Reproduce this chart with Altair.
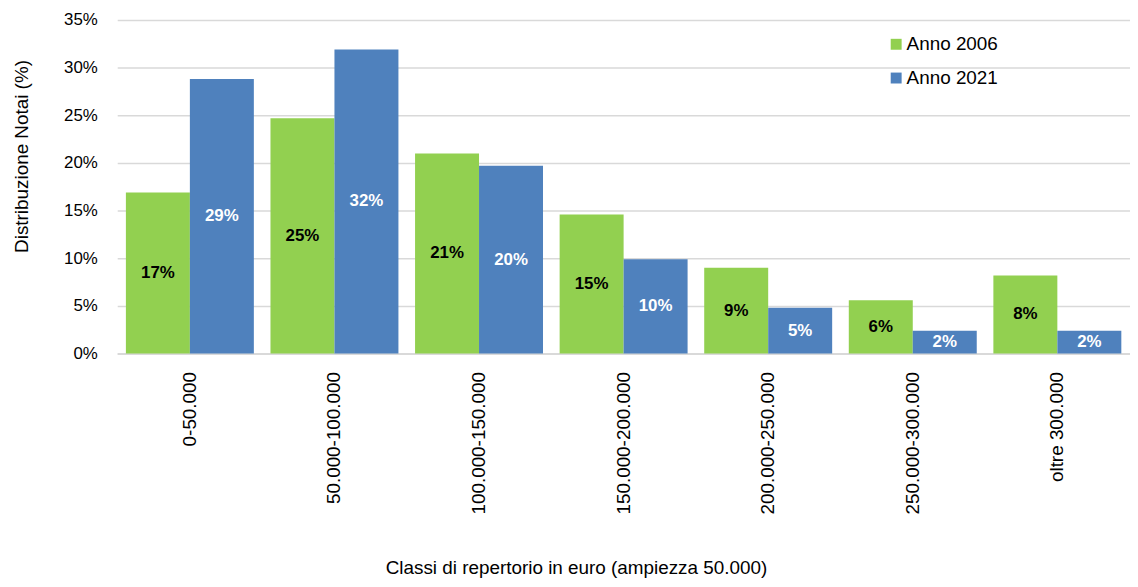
import altair as alt
import pandas as pd

classi = ["0-50.000", "50.000-100.000", "100.000-150.000", "150.000-200.000",
          "200.000-250.000", "250.000-300.000", "oltre 300.000"]
anno_2006 = [0.169, 0.247, 0.210, 0.146, 0.090, 0.056, 0.082]
anno_2021 = [0.288, 0.319, 0.197, 0.099, 0.048, 0.024, 0.024]
serie = ["Anno 2006", "Anno 2021"]
colori = ["#92D050", "#4F81BD"]
colori_testo = ["#000000", "#FFFFFF"]

rows = []
for i, c in enumerate(classi):
    rows.append({"Classe": c, "Anno": serie[0], "Valore": anno_2006[i], "tc": colori_testo[0]})
    rows.append({"Classe": c, "Anno": serie[1], "Valore": anno_2021[i], "tc": colori_testo[1]})
df = pd.DataFrame(rows)

FONT = "Liberation Sans"

x_enc = alt.X("Classe:N", sort=classi,
              scale=alt.Scale(paddingInner=0.115, paddingOuter=0.06),
              axis=alt.Axis(title="Classi di repertorio in euro (ampiezza 50.000)",
                            labelAngle=-90, labelAlign="right", labelBaseline="middle",
                            labelPadding=18, ticks=False, domainColor="#D9D9D9",
                            domainWidth=2, labelFontSize=19, labelColor="#000000",
                            titleFontSize=19, titleFontWeight="normal", titleColor="#000000",
                            titleX=462, titleY=215, titleBaseline="middle",
                            labelFont=FONT, titleFont=FONT))
xoff = alt.XOffset("Anno:N", sort=serie, scale=alt.Scale(paddingInner=0, paddingOuter=0))

bars = alt.Chart(df).mark_bar(stroke=None).encode(
    x=x_enc,
    xOffset=xoff,
    y=alt.Y("Valore:Q", scale=alt.Scale(domain=[0, 0.35], nice=False),
            axis=alt.Axis(title="Distribuzione Notai (%)", format=".0%",
                          values=[0, 0.05, 0.10, 0.15, 0.20, 0.25, 0.30, 0.35],
                          ticks=False, domain=False, gridColor="#D9D9D9", gridWidth=1.5,
                          labelPadding=20, labelFontSize=17, labelColor="#000000",
                          titleFontSize=19, titleFontWeight="normal", titleColor="#000000",
                          titleX=-96, titleY=137, titleBaseline="middle", titleAngle=-90,
                          labelFont=FONT, titleFont=FONT)),
    color=alt.Color("Anno:N", sort=serie,
                    scale=alt.Scale(domain=serie, range=colori),
                    legend=alt.Legend(title=None, orient="none", legendX=775, legendY=15,
                                      symbolType="square", symbolSize=121,
                                      symbolStrokeWidth=0, labelFontSize=19,
                                      labelFont=FONT, labelColor="#000000",
                                      rowPadding=14, padding=0, labelOffset=1)),
)

labels = alt.Chart(df).transform_calculate(
    half="datum.Valore / 2"
).mark_text(fontWeight="bold", fontSize=17, font=FONT, baseline="middle").encode(
    x=alt.X("Classe:N", sort=classi),
    xOffset=alt.XOffset("Anno:N", sort=serie),
    y=alt.Y("half:Q"),
    text=alt.Text("Valore:Q", format=".0%"),
    color=alt.Color("tc:N", scale=None, legend=None),
)

chart = alt.layer(bars, labels).properties(
    width=1020, height=336,
    padding={"left": 110, "top": 10, "right": 0, "bottom": 224},
    autosize=alt.AutoSizeParams(type="none"),
    background="white",
).configure_view(stroke=None)

chart.save("out.html", embed_options={"renderer": "svg", "actions": False})
